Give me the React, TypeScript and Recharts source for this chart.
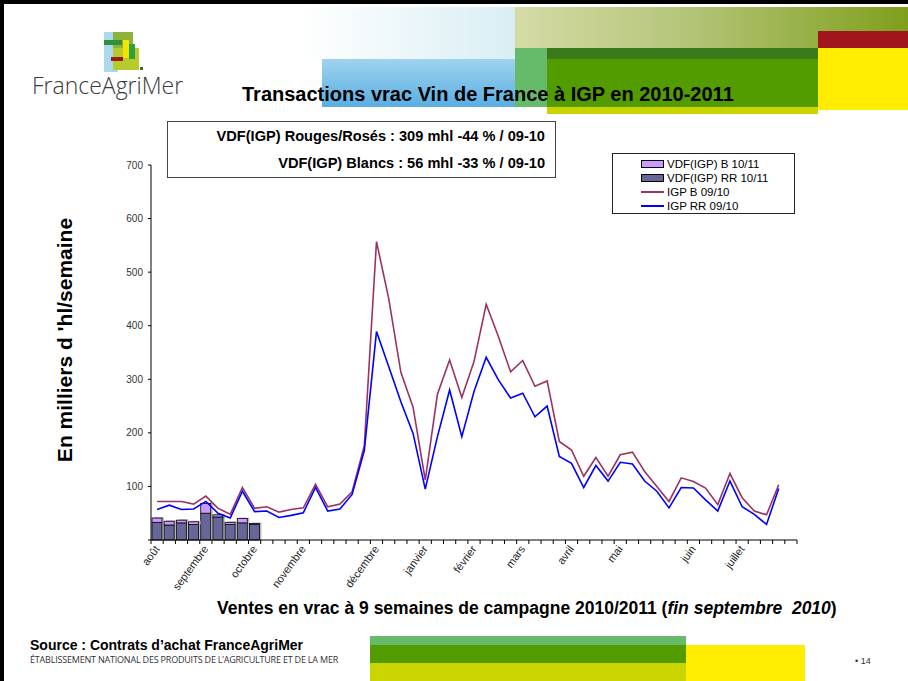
import React from "react";
import {
  Bar,
  ComposedChart,
  Legend,
  Line,
  XAxis,
  YAxis,
} from "recharts";

// Semaines de campagne (août 2010 -> juillet 2011), 53 cases sur l'axe
const WEEK_COUNT = 53;
const MONTHS = ["août", "septembre", "octobre", "novembre", "décembre", "janvier", "février", "mars", "avril", "mai", "juin", "juillet"];
const MONTH_WEEKS = [0, 4, 8, 12, 18, 22, 26, 30, 34, 38, 44, 48];

// barres empilées 2010/11 (9 premières semaines)
const VDF_RR_1011 = [33, 28, 32, 29, 50, 43, 29, 32, 29];
const VDF_B_1011 = [8, 7, 5, 5, 18, 4, 4, 8, 2];

// courbes 2009/10
const IGP_B_0910 = [
  72, 72, 72, 67, 82, 59, 48, 98, 59, 62, 52, 57, 60, 104, 62, 67, 90, 176,
  557, 451, 313, 248, 112, 272, 336, 266, 333, 440, 380, 314, 335, 287, 297, 184, 168, 119, 154, 119, 159,
  164, 128, 100, 72, 116, 109, 97, 66, 124, 79, 54, 47, 103, null,
];
const IGP_RR_0910 = [
  57, 65, 57, 58, 72, 50, 41, 91, 53, 54, 42, 46, 51, 98, 54, 58, 85, 167,
  389, 324, 258, 199, 95, 193, 280, 193, 277, 341, 299, 265, 274, 230, 250, 156, 143, 98, 139, 110, 145,
  142, 110, 91, 60, 98, 97, 75, 54, 110, 62, 48, 29, 96, null,
];

const Y_TICKS = [0, 100, 200, 300, 400, 500, 600, 700];

const LEGEND_ITEMS = [
  { name: "VDF(IGP) B 10/11", color: "#CC99FF", kind: "rect" },
  { name: "VDF(IGP) RR 10/11", color: "#666699", kind: "rect" },
  { name: "IGP B 09/10", color: "#993366", kind: "line" },
  { name: "IGP RR 09/10", color: "#0000FF", kind: "line" },
];

const FONT = '"Liberation Sans", Arial, sans-serif';
const PLOT_LEFT = 151;
const PLOT_RIGHT = 797;
const BAND = (PLOT_RIGHT - PLOT_LEFT) / WEEK_COUNT;

const rows = Array.from({ length: WEEK_COUNT }, (_, i) => ({
  week: i,
  rr: VDF_RR_1011[i] ?? null,
  b: VDF_B_1011[i] ?? null,
  igpB: IGP_B_0910[i],
  igpRR: IGP_RR_0910[i],
}));

function monthLabel(i: number) {
  const k = MONTH_WEEKS.indexOf(i);
  return k >= 0 ? MONTHS[k] : "";
}

function MonthTick(props: any) {
  const { x, y, payload } = props;
  const i = Number(payload.value);
  const label = monthLabel(i);
  const half = BAND / 2;
  const tx = x + 3;
  const ty = y + 9;
  return (
    <g>
      <line x1={x - half} x2={x - half} y1={y} y2={y + 4} stroke="#000" />
      {i === WEEK_COUNT - 1 && (
        <line x1={x + half} x2={x + half} y1={y} y2={y + 4} stroke="#000" />
      )}
      {label && (
        <text
          x={tx}
          y={ty}
          transform={`rotate(-54, ${tx}, ${ty})`}
          textAnchor="end"
          fontSize={11}
          fill="#222"
          fontFamily={FONT}
        >
          {label}
        </text>
      )}
    </g>
  );
}

// barre avec petite ombre grise à droite, comme dans Excel
function ShadowBar(props: any) {
  const { x, y, width, height, fill } = props;
  if (!height || height <= 0) return null;
  return (
    <g>
      <rect x={x + 2} y={y - 1} width={width} height={height + 1} fill="#bdbdbd" />
      <rect x={x} y={y} width={width} height={height} fill={fill} stroke="#000" strokeWidth={0.8} />
    </g>
  );
}

function LegendBox() {
  return (
    <div
      style={{
        border: "1px solid #222",
        background: "#fff",
        width: 181,
        height: 56,
        paddingTop: 3,
        boxSizing: "content-box",
        fontFamily: FONT,
        fontSize: 11.5,
        color: "#000",
      }}
    >
      {LEGEND_ITEMS.map((it) => (
        <div key={it.name} style={{ display: "flex", alignItems: "center", height: 14, lineHeight: "14px" }}>
          <span style={{ display: "inline-block", width: 28 }} />
          {it.kind === "rect" ? (
            <span
              style={{
                display: "inline-block",
                width: 21,
                height: 6,
                background: it.color,
                border: "1px solid #000",
              }}
            />
          ) : (
            <span style={{ display: "inline-block", width: 23, height: 1.5, background: it.color }} />
          )}
          <span style={{ marginLeft: 3, whiteSpace: "nowrap" }}>{it.name}</span>
        </div>
      ))}
    </div>
  );
}

function Decorations() {
  const abs = (s: React.CSSProperties): React.CSSProperties => ({ position: "absolute", ...s });
  return (
    <>
      {/* cadre */}
      <div style={abs({ left: 0, top: 0, width: 908, height: 4, background: "#000" })} />
      <div style={abs({ left: 0, top: 0, width: 4, height: 681, background: "#000" })} />
      {/* bandeau haut */}
      <div style={abs({ left: 300, top: 7, width: 215, height: 52, background: "linear-gradient(90deg, #ffffff, #d9eef4)" })} />
      <div style={abs({ left: 322, top: 59, width: 193, height: 48, background: "linear-gradient(180deg, #9fd3ef, #5aaee2)" })} />
      <div style={abs({ left: 515, top: 7, width: 393, height: 41, background: "linear-gradient(90deg, #d5dba6, #b3c477 45%, #7f9f1c)" })} />
      <div style={abs({ left: 818, top: 31, width: 90, height: 17, background: "#a0161c" })} />
      <div style={abs({ left: 818, top: 48, width: 90, height: 62, background: "#ffec00" })} />
      <div style={abs({ left: 515, top: 48, width: 32, height: 59, background: "#66bb6a" })} />
      <div style={abs({ left: 547, top: 48, width: 271, height: 11, background: "#3a7a18" })} />
      <div style={abs({ left: 547, top: 59, width: 271, height: 48, background: "#529c00" })} />
      <div style={abs({ left: 547, top: 107, width: 271, height: 7, background: "#c9d400" })} />
      {/* logo */}
      <div style={abs({ left: 104, top: 32, width: 14, height: 40, background: "#a9d8f1" })} />
      <div style={abs({ left: 113, top: 32, width: 20, height: 16, background: "#8fb23a" })} />
      <div style={abs({ left: 104, top: 40, width: 18, height: 5, background: "#2f8f3b" })} />
      <div style={abs({ left: 113, top: 48, width: 26, height: 22, background: "#b7cb2c" })} />
      <div style={abs({ left: 123, top: 40, width: 6, height: 18, background: "#f4e400" })} />
      <div style={abs({ left: 129, top: 44, width: 6, height: 15, background: "#31a03b" })} />
      <div style={abs({ left: 111, top: 57, width: 12, height: 4, background: "#a3171b" })} />
      <div style={abs({ left: 140, top: 67, width: 3, height: 3, background: "#1f7a2a" })} />
      <div
        style={abs({
          left: 32,
          top: 69,
          fontFamily: '"Open Sans", "Noto Sans", sans-serif',
          fontWeight: 300,
          fontSize: 23,
          letterSpacing: 0,
          color: "#3a3a3a",
          whiteSpace: "nowrap",
        })}
      >
        FranceAgriMer
      </div>
      {/* pied */}
      <div style={abs({ left: 370, top: 636, width: 316, height: 9, background: "#66bb6a" })} />
      <div style={abs({ left: 370, top: 645, width: 316, height: 18, background: "#529c00" })} />
      <div style={abs({ left: 370, top: 663, width: 316, height: 18, background: "#c9d400" })} />
      <div style={abs({ left: 686, top: 645, width: 119, height: 36, background: "#ffec00" })} />
    </>
  );
}

export default function App() {
  const abs = (s: React.CSSProperties): React.CSSProperties => ({ position: "absolute", ...s });
  return (
    <div
      style={{
        position: "absolute",
        left: 0,
        top: 0,
        width: 908,
        height: 681,
        background: "#fff",
        overflow: "hidden",
        fontFamily: FONT,
      }}
    >
      <Decorations />

      <div style={abs({ left: 242, top: 83, fontSize: 20, fontWeight: "bold", lineHeight: "22px", whiteSpace: "nowrap", color: "#000" })}>
        Transactions vrac Vin de France à IGP en 2010-2011
      </div>

      <div style={abs({ left: 0, top: 0 })}>
        <ComposedChart
          width={908}
          height={681}
          data={rows}
          margin={{ top: 165, right: 111, bottom: 81, left: 111 }}
          barCategoryGap="8%"
        >
          <XAxis
            dataKey="week"
            type="category"
            height={60}
            interval={0}
            tickLine={false}
            tickSize={0}
            tickMargin={0}
            axisLine={{ stroke: "#000" }}
            tick={<MonthTick />}
          />
          <YAxis
            width={40}
            domain={[0, 700]}
            ticks={Y_TICKS}
            interval={0}
            tickSize={3}
            tickMargin={5}
            axisLine={{ stroke: "#000" }}
            tickLine={{ stroke: "#000" }}
            tick={{ fontSize: 10, fill: "#333", fontFamily: FONT }}
            tickFormatter={(v) => (v === 0 ? "" : String(v))}
          />
          <Bar dataKey="rr" name="VDF(IGP) RR 10/11" stackId="v" fill="#666699" shape={<ShadowBar />} isAnimationActive={false} />
          <Bar dataKey="b" name="VDF(IGP) B 10/11" stackId="v" fill="#CC99FF" shape={<ShadowBar />} isAnimationActive={false} />
          <Line dataKey="igpB" name="IGP B 09/10" type="linear" stroke="#993366" strokeWidth={1.6} dot={false} isAnimationActive={false} />
          <Line dataKey="igpRR" name="IGP RR 09/10" type="linear" stroke="#0000FF" strokeWidth={1.6} dot={false} isAnimationActive={false} />
          <Legend
            layout="horizontal"
            verticalAlign="middle"
            align="center"
            content={() => <LegendBox />}
            wrapperStyle={{ left: 612, top: 153, width: 183, height: 60 }}
          />
        </ComposedChart>
      </div>

      <div
        style={abs({
          left: 167,
          top: 121,
          width: 387,
          height: 55,
          border: "1px solid #444",
          fontSize: 14.6,
          fontWeight: "bold",
          color: "#000",
        })}
      >
        <div style={abs({ right: 10, top: 6, lineHeight: "17px", whiteSpace: "nowrap" })}>
          VDF(IGP) Rouges/Rosés : 309 mhl -44 % / 09-10
        </div>
        <div style={abs({ right: 10, top: 33, lineHeight: "17px", whiteSpace: "nowrap" })}>
          VDF(IGP) Blancs : 56 mhl -33 % / 09-10
        </div>
      </div>

      <div
        style={abs({
          left: -85,
          top: 328,
          width: 300,
          height: 24,
          lineHeight: "24px",
          textAlign: "center",
          transform: "rotate(-90deg)",
          fontSize: 21,
          fontWeight: "bold",
          color: "#000",
          whiteSpace: "nowrap",
        })}
      >
        En milliers d 'hl/semaine
      </div>

      <div style={abs({ left: 217, top: 598, fontSize: 17.5, fontWeight: "bold", lineHeight: "20px", whiteSpace: "pre", color: "#000" })}>
        Ventes en vrac à 9 semaines de campagne 2010/2011 (<i>fin septembre  2010</i>)
      </div>

      <div style={abs({ left: 30, top: 637, fontSize: 14, fontWeight: "bold", lineHeight: "16px", whiteSpace: "nowrap", color: "#000" })}>
        Source : Contrats d’achat FranceAgriMer
      </div>
      <div
        style={abs({
          left: 30,
          top: 655,
          fontSize: 9,
          lineHeight: "10px",
          whiteSpace: "nowrap",
          color: "#333",
          fontFamily: '"Open Sans", "Noto Sans", sans-serif',
          letterSpacing: -0.2,
        })}
      >
        ÉTABLISSEMENT NATIONAL DES PRODUITS DE L’AGRICULTURE ET DE LA MER
      </div>
      <div style={abs({ left: 855, top: 655, fontSize: 9, lineHeight: "12px", color: "#333" })}>• 14</div>
    </div>
  );
}
